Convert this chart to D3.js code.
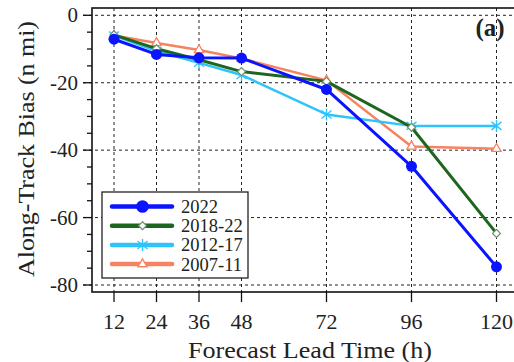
<!DOCTYPE html>
<html>
<head>
<meta charset="utf-8">
<script src="https://cdn.jsdelivr.net/npm/d3@7"></script>
<style>
  body { margin: 0; background: #fff; }
</style>
</head>
<body>
<div id="chart"></div>
<script>
// Forecast lead times (h)
const leadTimes = [12, 24, 36, 48, 72, 96, 120];
const yTicks = [0, -20, -40, -60, -80];

// Along-track bias (n mi) per period
const bias2022 = [-7.1, -11.6, -12.6, -12.7, -22.0, -44.8, -74.6];
const bias2018 = [-5.8, -9.9, -13.2, -16.7, -19.6, -33.2, -64.7];
const bias2012 = [-6.0, -10.6, -14.1, -17.7, -29.4, -32.8, -32.8];
const bias2007 = [-6.0, -8.2, -10.3, -12.8, -19.3, -38.9, -39.6];

const seriesNames = ['2022', '2018-22', '2012-17', '2007-11'];
const seriesColors = ['#0a14ff', '#1d661d', '#2ec4fb', '#f7825f'];

const series = [
  { name: seriesNames[0], values: bias2022, color: seriesColors[0], marker: 'circle', width: 3 },
  { name: seriesNames[1], values: bias2018, color: seriesColors[1], marker: 'diamond', width: 3 },
  { name: seriesNames[2], values: bias2012, color: seriesColors[2], marker: 'star', width: 2.5 },
  { name: seriesNames[3], values: bias2007, color: seriesColors[3], marker: 'triangle', width: 2.5 }
];

const W = 514, H = 362;
const box = { left: 92, top: 8, right: 513, bottom: 292 };
const serif = "'Liberation Serif', 'Times New Roman', 'DejaVu Serif', serif";

const svg = d3.select('#chart').append('svg')
  .attr('width', W)
  .attr('height', H)
  .attr('font-family', serif)
  .style('font-family', serif);

const x = d3.scaleLinear().domain([12, 120]).range([114, 496.5]);
const y = d3.scaleLinear().domain([0, -80]).range([15.3, 285]);

// Grid lines
const grid = svg.append('g').attr('stroke', '#222').attr('stroke-width', 1).attr('stroke-dasharray', '3,3');
grid.selectAll('.hgrid')
  .data(yTicks)
  .enter().append('line')
  .attr('x1', box.left - 9).attr('x2', box.right)
  .attr('y1', d => y(d)).attr('y2', d => y(d));
grid.selectAll('.vgrid')
  .data(leadTimes)
  .enter().append('line')
  .attr('x1', d => x(d)).attr('x2', d => x(d))
  .attr('y1', box.top).attr('y2', box.bottom);

// Frame
svg.append('rect')
  .attr('x', box.left).attr('y', box.top)
  .attr('width', box.right - box.left + 4).attr('height', box.bottom - box.top)
  .attr('fill', 'none').attr('stroke', '#111').attr('stroke-width', 1.6);

// Y axis ticks (major + minor)
const yAxis = svg.append('g');
yAxis.selectAll('.minor')
  .data(d3.range(0, -81, -5))
  .enter().append('line')
  .attr('x1', d => box.left - (d % 20 === 0 ? 9 : 5))
  .attr('x2', box.left)
  .attr('y1', d => y(d)).attr('y2', d => y(d))
  .attr('stroke', '#111').attr('stroke-width', 1.3);
yAxis.selectAll('.ylab')
  .data(yTicks)
  .enter().append('text')
  .attr('x', 78)
  .attr('y', d => y(d) + 7)
  .attr('text-anchor', 'end')
  .attr('fill', '#222')
  .style('font-size', '21px')
  .text(d => d === 0 ? '0' : '-' + Math.abs(d));

// X axis ticks
const xAxis = svg.append('g');
xAxis.selectAll('.xtick')
  .data(leadTimes)
  .enter().append('line')
  .attr('x1', d => x(d)).attr('x2', d => x(d))
  .attr('y1', box.bottom).attr('y2', box.bottom + 10)
  .attr('stroke', '#111').attr('stroke-width', 1.3);
xAxis.selectAll('.xlab')
  .data(leadTimes)
  .enter().append('text')
  .attr('x', d => x(d))
  .attr('y', 329)
  .attr('text-anchor', 'middle')
  .attr('fill', '#222')
  .style('font-size', '22px')
  .text(d => d);

// Axis titles
svg.append('text')
  .attr('x', 310).attr('y', 358)
  .attr('text-anchor', 'middle')
  .attr('fill', '#222')
  .attr('textLength', 244)
  .attr('lengthAdjust', 'spacingAndGlyphs')
  .style('font-size', '24px')
  .text('Forecast Lead Time (h)');

svg.append('text')
  .attr('transform', 'translate(34,149) rotate(-90)')
  .attr('text-anchor', 'middle')
  .attr('fill', '#222')
  .attr('textLength', 256)
  .attr('lengthAdjust', 'spacingAndGlyphs')
  .style('font-size', '24px')
  .text('Along-Track Bias (n mi)');

// Panel label
svg.append('text')
  .attr('x', 490).attr('y', 36)
  .attr('text-anchor', 'middle')
  .attr('fill', '#222')
  .style('font-size', '25px')
  .style('font-weight', 'bold')
  .text('(a)');

function drawMarker(g, type, color, cx, cy, scale) {
  const s = scale || 1;
  if (type === 'circle') {
    g.append('circle').attr('cx', cx).attr('cy', cy).attr('r', 5.5 * s).attr('fill', color);
  } else if (type === 'diamond') {
    g.append('path')
      .attr('d', d3.symbol(d3.symbolDiamond2, 40 * s * s)())
      .attr('transform', `translate(${cx},${cy})`)
      .attr('fill', 'white').attr('stroke', '#6f8f6f').attr('stroke-width', 1.2);
  } else if (type === 'star') {
    g.append('path')
      .attr('d', `M${-5 * s},${-4 * s}L${5 * s},${4 * s}M${-5 * s},${4 * s}L${5 * s},${-4 * s}M0,${-6 * s}L0,${6 * s}`)
      .attr('transform', `translate(${cx},${cy})`)
      .attr('stroke', color).attr('stroke-width', 1.3).attr('fill', 'none');
  } else if (type === 'triangle') {
    g.append('path')
      .attr('d', d3.symbol(d3.symbolTriangle2, 60 * s * s)())
      .attr('transform', `translate(${cx},${cy})`)
      .attr('fill', 'white').attr('stroke', color).attr('stroke-width', 1.3);
  }
}

// Lines, drawn oldest first so 2022 sits on top
const line = d3.line()
  .x((d, i) => x(leadTimes[i]))
  .y(d => y(d));

series.slice().reverse().forEach(s => {
  const g = svg.append('g');
  g.append('path')
    .datum(s.values)
    .attr('d', line)
    .attr('fill', 'none')
    .attr('stroke', s.color)
    .attr('stroke-width', s.width)
    .attr('stroke-linejoin', 'round');
  s.values.forEach((v, i) => drawMarker(g, s.marker, s.color, x(leadTimes[i]), y(v)));
});

// Legend
const legend = svg.append('g');
legend.append('rect')
  .attr('x', 102).attr('y', 192)
  .attr('width', 146).attr('height', 86)
  .attr('fill', 'white').attr('stroke', '#222').attr('stroke-width', 1.3);

series.forEach((s, i) => {
  const ly = 206.5 + i * 19.2;
  const g = legend.append('g');
  g.append('line')
    .attr('x1', 112).attr('x2', 172)
    .attr('y1', ly).attr('y2', ly)
    .attr('stroke', s.color).attr('stroke-width', 4.5)
    .attr('stroke-linecap', 'round');
  drawMarker(g, s.marker, s.color, 142.5, ly, s.marker === 'circle' ? 1.15 : 1);
  g.append('text')
    .attr('x', 181).attr('y', ly + 6.5)
    .attr('fill', '#222')
    .style('font-size', '18.5px')
    .text(s.name);
});
</script>
</body>
</html>
